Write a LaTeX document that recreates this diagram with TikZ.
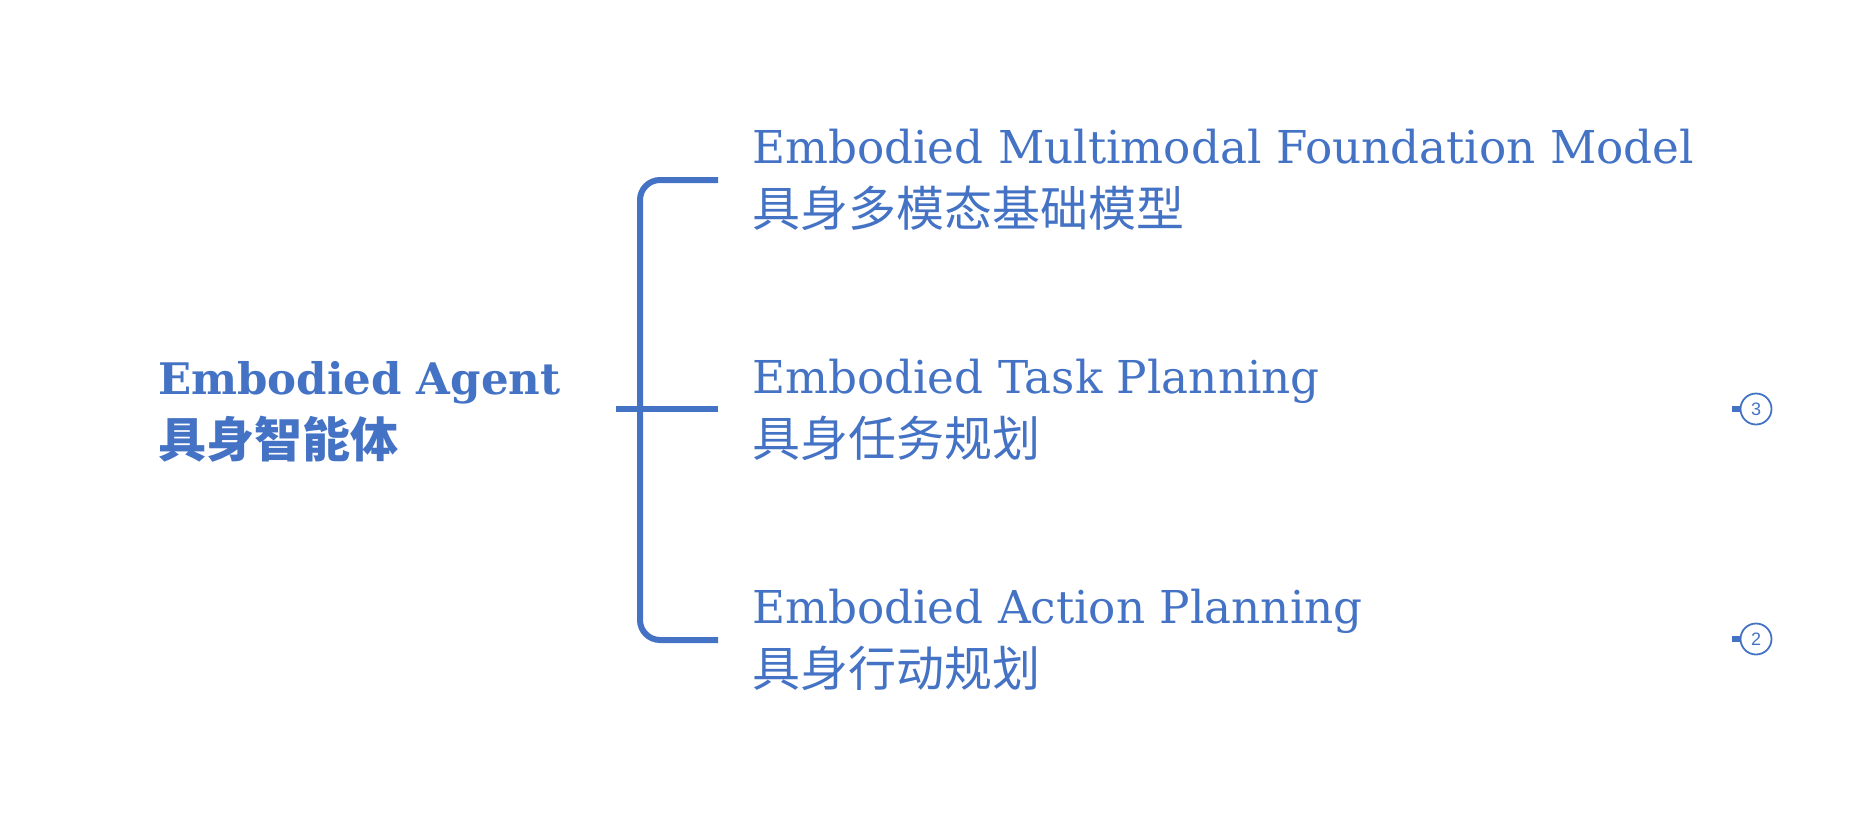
\documentclass[tikz,border=0pt]{standalone}
\usepackage{fontspec}
\newfontfamily\enfont{DejaVu Serif}
\newfontfamily\cjk{Noto Sans CJK SC}
\newfontfamily\numfont{Liberation Sans}
\definecolor{officeblue}{HTML}{4472C4}
\begin{document}
\begin{tikzpicture}[x=1pt,y=-1pt,
  txt/.style={inner sep=0pt,anchor=base west,text=officeblue},
  entext/.style={txt,font=\enfont\fontsize{45.3}{54}\selectfont},
  cntext/.style={txt,font=\cjk\fontsize{48}{54}\selectfont},
  enbold/.style={txt,font=\enfont\bfseries\fontsize{43.5}{54}\selectfont},
  cnbold/.style={txt,font=\cjk\bfseries\fontsize{48}{54}\selectfont},
  brace/.style={draw=officeblue,line width=6pt},
  badge/.style={circle,draw=officeblue,line width=1.8pt,minimum size=31pt,inner sep=0pt,text=officeblue,font=\numfont\fontsize{18}{18}\selectfont},
  tab/.style={fill=officeblue,draw=none}]
\useasboundingbox (0,0) rectangle (1872,820);
% left
\node[enbold] (agentEn) at (158,394) {Embodied Agent};
\node[cnbold] (agentCn) at (158,457) {具身智能体};
% bracket
\coordinate (bTop) at (718,180);
\coordinate (bBot) at (718,640);
\coordinate (bMidL) at (616,409);
\coordinate (bMidR) at (718,409);
\draw[brace,rounded corners=20pt] (bTop) -- (640,180) -- (640,640) -- (bBot);
\draw[brace] (bMidL) -- (bMidR);
% right texts
\node[entext] (m1En) at (752,163) {Embodied Multimodal Foundation Model};
\node[cntext] (m1Cn) at (752,226) {具身多模态基础模型};
\node[entext] (m2En) at (752,393) {Embodied Task Planning};
\node[cntext] (m2Cn) at (752,456) {具身任务规划};
\node[entext] (m3En) at (752,623) {Embodied Action Planning};
\node[cntext] (m3Cn) at (752,686) {具身行动规划};
% badges
\fill[tab] (1732,406) rectangle (1741,412);
\node[badge] (b3) at (1756,409) {3};
\fill[tab] (1732,636) rectangle (1741,642);
\node[badge] (b2) at (1756,639) {2};
\end{tikzpicture}
\end{document}
